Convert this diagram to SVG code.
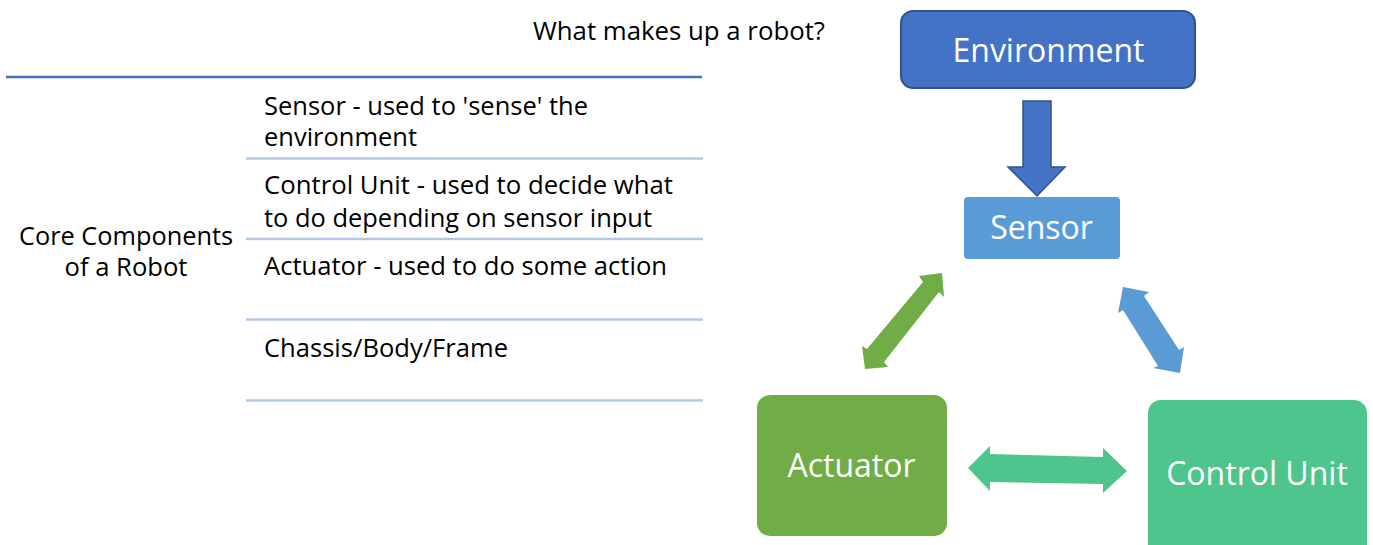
<svg xmlns="http://www.w3.org/2000/svg" width="1373" height="545" viewBox="0 0 1373 545">
  <style>
    .txt { font-family: "Open Sans", "Liberation Sans", sans-serif; font-size: 25px; fill: #000000; }
    .box-label { font-family: "Open Sans", "Liberation Sans", sans-serif; font-size: 32px; fill: #FFFFFF; text-anchor: middle; }
    .row-rule { stroke: #B4C7E7; stroke-width: 2.5; }
    .head-rule { stroke: #4472C4; stroke-width: 2.5; }
  </style>

  <rect width="1373" height="545" fill="#FFFFFF"/>

  <!-- Title -->
  <text class="txt" x="533" y="40" textLength="292" lengthAdjust="spacingAndGlyphs">What makes up a robot?</text>

  <!-- Component list -->
  <g id="component-list">
    <line class="head-rule" x1="6" y1="77" x2="702" y2="77"/>
    <text class="txt" x="126" y="245" text-anchor="middle" textLength="214" lengthAdjust="spacingAndGlyphs">Core Components</text>
    <text class="txt" x="126" y="276" text-anchor="middle" textLength="123" lengthAdjust="spacingAndGlyphs">of a Robot</text>

    <text class="txt" x="264" y="115" textLength="324" lengthAdjust="spacingAndGlyphs">Sensor - used to 'sense' the</text>
    <text class="txt" x="264" y="146" textLength="153" lengthAdjust="spacingAndGlyphs">environment</text>
    <line class="row-rule" x1="246" y1="158.5" x2="703" y2="158.5"/>

    <text class="txt" x="264" y="194" textLength="409" lengthAdjust="spacingAndGlyphs">Control Unit - used to decide what</text>
    <text class="txt" x="264" y="227" textLength="388" lengthAdjust="spacingAndGlyphs">to do depending on sensor input</text>
    <line class="row-rule" x1="246" y1="239" x2="703" y2="239"/>

    <text class="txt" x="264" y="275" textLength="403" lengthAdjust="spacingAndGlyphs">Actuator - used to do some action</text>
    <line class="row-rule" x1="246" y1="319.5" x2="703" y2="319.5"/>

    <text class="txt" x="264" y="357" textLength="244" lengthAdjust="spacingAndGlyphs">Chassis/Body/Frame</text>
    <line class="row-rule" x1="246" y1="400.5" x2="703" y2="400.5"/>
  </g>

  <!-- Nodes -->
  <g id="environment">
    <rect x="901" y="11" width="294" height="77" rx="12" ry="12" fill="#4472C4" stroke="#2F528F" stroke-width="2"/>
    <text class="box-label" x="1048.5" y="62">Environment</text>
  </g>

  <g id="sensor">
    <rect x="964" y="197" width="156" height="62" rx="4" ry="4" fill="#5B9BD5"/>
    <text class="box-label" x="1041.5" y="239">Sensor</text>
  </g>

  <g id="actuator">
    <rect x="757" y="395" width="190" height="141" rx="13" ry="13" fill="#70AD47"/>
    <text class="box-label" x="851.5" y="477">Actuator</text>
  </g>

  <g id="control-unit">
    <rect x="1148" y="400" width="219" height="160" rx="13" ry="13" fill="#4FC58E"/>
    <text class="box-label" x="1257" y="485">Control Unit</text>
  </g>

  <!-- Connectors -->
  <g id="connectors">
    <!-- Environment to Sensor -->
    <polygon points="1023,101 1051,101 1051,167 1065,167 1037,196 1008,167 1023,167" fill="#4472C4" stroke="#2F528F" stroke-width="1.5" stroke-linejoin="miter"/>
    <!-- Sensor / Actuator -->
    <polygon points="942,273 944,297 939,292 884,362 888,367 865,369 862,346 867,349 923,282 919,276" fill="#70AD47"/>
    <!-- Sensor / Control Unit -->
    <polygon points="1123,287 1149,292 1144,296 1179,350 1184,347 1180,373 1153,368 1158,366 1123,310 1118,313" fill="#5B9BD5"/>
    <!-- Actuator / Control Unit -->
    <polygon points="968,468 990,446 990,454 1103,457 1103,448 1127,471 1103,493 1103,484 990,482 990,491" fill="#4FC58E"/>
  </g>
</svg>
